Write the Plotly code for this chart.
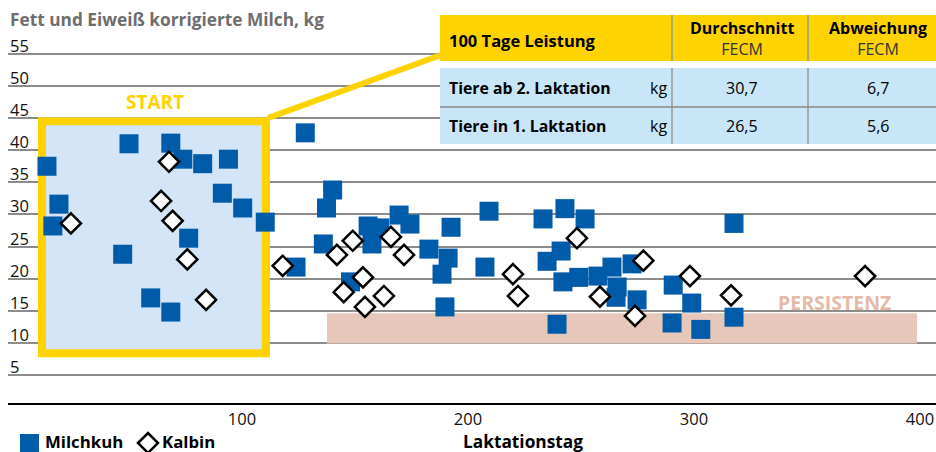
import plotly.graph_objects as go

# ---- data ----
milchkuh_tag = [13.7, 19.0, 16.3, 50.0, 68.5, 73.8, 82.6, 94.0, 91.3, 100.3, 110.3, 76.4, 47.2,
                59.6, 68.5, 123.9, 128.0, 140.1, 137.4, 136.0, 148.0, 155.8, 161.0, 157.5, 169.5,
                174.3, 182.7, 191.2, 188.5, 192.5, 189.8, 209.3, 207.5, 233.2, 242.9, 251.8, 241.2,
                235.0, 242.0, 249.0, 257.5, 263.7, 272.6, 266.0, 265.5, 274.8, 239.4, 290.8, 299.0,
                290.3, 303.0, 317.7, 317.7]
milchkuh_kg = [37.5, 31.6, 28.2, 41.0, 41.1, 38.6, 37.9, 38.6, 33.3, 31.0, 28.8, 26.3, 23.8,
               17.0, 14.8, 21.8, 42.7, 33.8, 31.0, 25.4, 19.5, 28.2, 27.9, 25.4, 29.9,
               28.5, 24.6, 23.2, 20.7, 28.0, 15.6, 30.5, 21.8, 29.3, 30.9, 29.3, 24.3,
               22.7, 19.5, 20.2, 20.4, 21.8, 22.3, 18.7, 17.1, 16.7, 12.9, 19.0, 16.2,
               13.1, 12.1, 14.0, 28.6]
kalbin_tag = [24.3, 67.7, 64.2, 69.3, 75.8, 84.1, 118.0, 142.0, 149.0, 153.5, 145.0, 154.4,
              162.8, 165.9, 171.7, 219.9, 222.1, 248.2, 258.4, 277.6, 273.9, 298.2, 316.4, 375.7]
kalbin_kg = [28.6, 38.2, 32.1, 29.0, 23.0, 16.7, 22.0, 23.7, 25.9, 20.2, 17.9, 15.6,
             17.3, 26.5, 23.7, 20.7, 17.3, 26.3, 17.2, 22.8, 14.2, 20.4, 17.4, 20.4]

y_ticks = [5, 10, 15, 20, 25, 30, 35, 40, 45, 50, 55]
x_ticks = [100, 200, 300, 400]

start_box_x = [11.5, 110.6]
start_box_y = [8.4, 44.5]
persistenz_x = [137.6, 398.7]
persistenz_y = [9.9, 14.6]

table_header = ["100 Tage Leistung", "Durchschnitt", "Abweichung"]
table_sub = ["FECM", "FECM"]
table_rows = ["Tiere ab 2. Laktation", "Tiere in 1. Laktation"]
table_unit = "kg"
table_mean = ["30,7", "26,5"]
table_dev = ["6,7", "5,6"]

# ---- styles ----
FONT = "Open Sans"
BLUE = "#005ca9"
YELLOW = "#ffd300"
LIGHTBLUE = "#d3e5f6"
TABLEBLUE = "#c9e6f8"
ROSE = "#e6c7b9"

W, H = 936, 452
ML, MR, MT, MB = 8, 0, 41, 49
PW, PH = W - ML - MR, H - MT - MB


def px(p):
    return (p - ML) / PW


def py(p):
    return (H - MB - p) / PH


fig = go.Figure()

fig.add_trace(go.Scatter(
    x=milchkuh_tag, y=milchkuh_kg, mode="markers", name="Milchkuh",
    marker=dict(symbol="square", size=19, color=BLUE, line=dict(width=0)),
    showlegend=False, cliponaxis=False))
fig.add_trace(go.Scatter(
    x=kalbin_tag, y=kalbin_kg, mode="markers", name="Kalbin",
    marker=dict(symbol="diamond", size=15.5, color="white", line=dict(width=2.5, color="black")),
    showlegend=False, cliponaxis=False))

shapes = []
shapes.append(dict(type="rect", xref="x", yref="y", x0=start_box_x[0], x1=start_box_x[1],
                   y0=start_box_y[0], y1=start_box_y[1], fillcolor=LIGHTBLUE,
                   line=dict(color=YELLOW, width=8), layer="between"))
shapes.append(dict(type="rect", xref="x", yref="y", x0=persistenz_x[0], x1=persistenz_x[1],
                   y0=persistenz_y[0], y1=persistenz_y[1], fillcolor=ROSE,
                   line=dict(width=0), layer="between"))
shapes.append(dict(type="line", xref="paper", yref="paper", x0=px(268), y0=py(118),
                   x1=px(441), y1=py(55), line=dict(color=YELLOW, width=6), layer="above"))
shapes.append(dict(type="rect", xref="paper", yref="paper", x0=px(440), x1=px(936),
                   y0=py(61), y1=py(15), fillcolor=YELLOW, line=dict(width=0), layer="above"))
shapes.append(dict(type="rect", xref="paper", yref="paper", x0=px(440), x1=px(936),
                   y0=py(144), y1=py(68), fillcolor=TABLEBLUE, line=dict(width=0), layer="above"))
shapes.append(dict(type="rect", xref="paper", yref="paper", x0=px(440), x1=px(936),
                   y0=py(68), y1=py(61), fillcolor="white", line=dict(width=0), layer="above"))
for xv in (672, 808):
    for (a, b) in ((15, 61), (68, 144)):
        shapes.append(dict(type="line", xref="paper", yref="paper", x0=px(xv), x1=px(xv),
                           y0=py(a), y1=py(b), line=dict(color="#9a9a9a", width=1.5), layer="above"))
shapes.append(dict(type="line", xref="paper", yref="paper", x0=px(440), x1=px(936),
                   y0=py(107), y1=py(107), line=dict(color="#8a8a8a", width=1.5), layer="above"))
shapes.append(dict(type="rect", xref="paper", yref="paper", x0=px(20), x1=px(39),
                   y0=py(454), y1=py(434), fillcolor=BLUE, line=dict(width=0), layer="above"))
cx, cy, r = 148, 443, 10
path = "M {} {} L {} {} L {} {} L {} {} Z".format(
    px(cx - r), py(cy), px(cx), py(cy - r), px(cx + r), py(cy), px(cx), py(cy + r))
shapes.append(dict(type="path", xref="paper", yref="paper", path=path, fillcolor="white",
                   line=dict(color="black", width=2.5), layer="above"))

ann = []


def text(xp, yp, s, size=16, color="black", xa="center", ya="middle"):
    ann.append(dict(x=px(xp), y=py(yp), xref="paper", yref="paper", text=s, showarrow=False,
                    xanchor=xa, yanchor=ya, font=dict(family=FONT, size=size, color=color)))


for v in y_ticks:
    ann.append(dict(x=0, xref="paper", y=v, yref="y", text=str(v), showarrow=False,
                    xanchor="left", yanchor="bottom", yshift=-5,
                    font=dict(family=FONT, size=16.5, color="#111")))

text(8, 20, "<b>Fett und Eiweiß korrigierte Milch, kg</b>", 17.3, "#6e6e6e", xa="left")
text(155, 102, "<b>START</b>", 19, YELLOW)
text(834, 302, "<b>PERSISTENZ</b>", 19.5, "#e4bba9")
text(447, 40, "<b>" + table_header[0] + "</b>", 16.5, xa="left")
for cxp, head, sub in ((742, table_header[1], table_sub[0]), (878, table_header[2], table_sub[1])):
    text(cxp, 39, "<b>" + head + "</b><br><span style='color:#333333'>" + sub + "</span>", 16)
for rowy, lab, m, d in zip((88, 126), table_rows, table_mean, table_dev):
    text(447, rowy, "<b>" + lab + "</b>", 15.8, xa="left")
    text(669, rowy, table_unit, 16, xa="right")
    text(742, rowy, m, 16)
    text(878, rowy, d, 16)
text(43, 441, "<b>Milchkuh</b>", 16.8, xa="left")
text(160, 441, "<b>Kalbin</b>", 16.8, xa="left")
text(523, 441, "<b>Laktationstag</b>", 17.3)

fig.update_layout(
    width=W, height=H, margin=dict(l=ML, r=MR, t=MT, b=MB, pad=0),
    paper_bgcolor="white", plot_bgcolor="white",
    shapes=shapes, annotations=ann, showlegend=False,
    xaxis=dict(range=[(ML - 16) / 2.26, (W - 16) / 2.26], tickvals=x_ticks,
               ticktext=[str(t) for t in x_ticks], showgrid=False, zeroline=False,
               showline=True, linecolor="black", linewidth=2, ticks="",
               tickfont=dict(family=FONT, size=16.5, color="#111"), fixedrange=True),
    yaxis=dict(range=[0.64, 57.0], tickvals=y_ticks, showticklabels=False, showgrid=True,
               gridcolor="#8c8c8c", gridwidth=1.5, zeroline=False, showline=False,
               ticks="", fixedrange=True),
)

fig.write_html("out.html", config={"displayModeBar": False},
               post_script="document.body.style.margin='0';document.body.style.overflow='hidden';")
